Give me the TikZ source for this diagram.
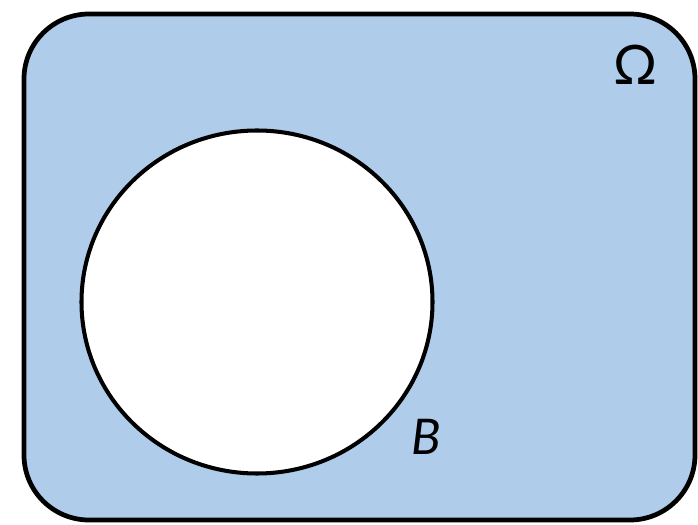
\documentclass[tikz,border=0pt]{standalone}
\usepackage{fontspec}
\setmainfont{Lato}
\usepackage{xcolor}
\definecolor{omegafill}{HTML}{AFCDEA}
\definecolor{setink}{HTML}{000000}

\begin{document}
\begin{tikzpicture}[x=1cm, y=1cm,
                    every node/.style={setink, font=\fontsize{14}{16}\selectfont}]

  \useasboundingbox (0,0) rectangle (6.98,5.25);

  %% sample space
  \filldraw[fill=omegafill, draw=setink, line width=1.35pt, rounded corners=0.65cm]
    (0.24,0.05) rectangle (6.95,5.11);

  %% the set B, left white
  \filldraw[fill=white, draw=setink, line width=1.15pt]
    (2.57,2.23) ellipse [x radius=1.755, y radius=1.715];

  %% labels
  \node (omega) at (6.36,4.60) {\fontsize{15.5}{17}\selectfont Ω};
  \node (setB)  at (4.26,0.88) {\itshape B};

\end{tikzpicture}
\end{document}
